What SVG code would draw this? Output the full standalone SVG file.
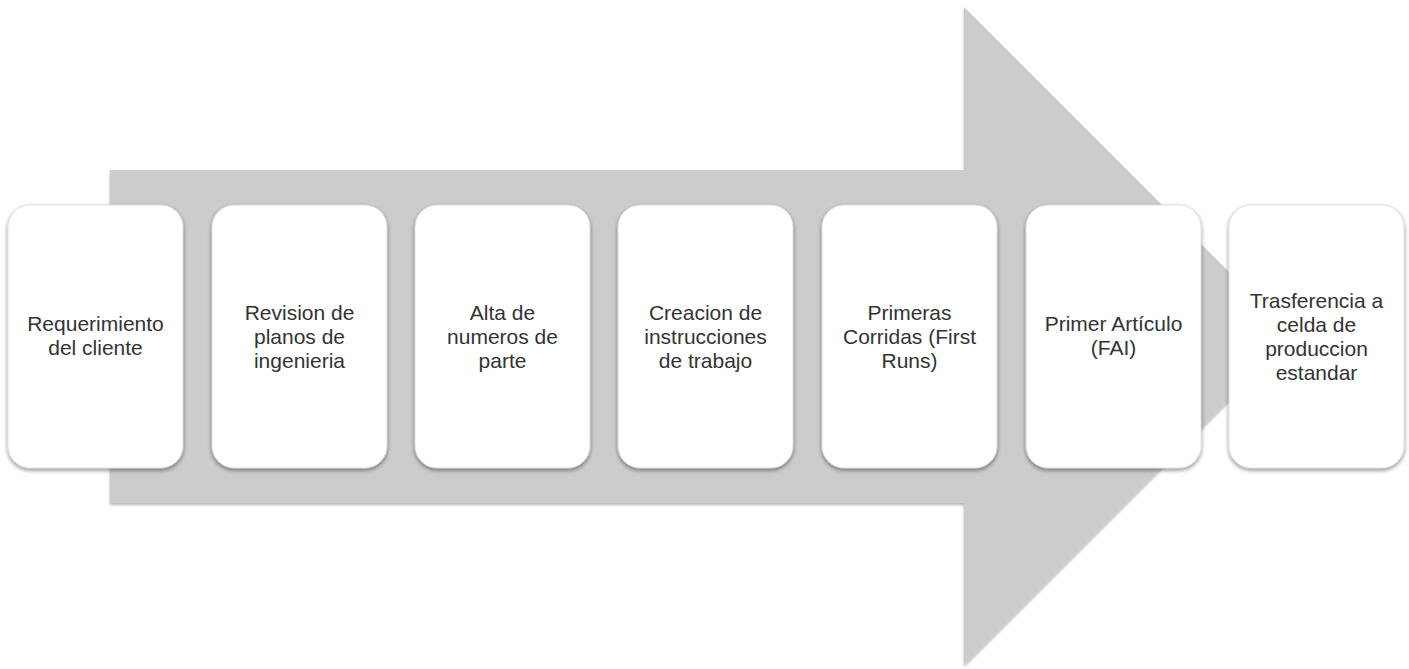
<svg xmlns="http://www.w3.org/2000/svg" width="1409" height="669" viewBox="0 0 1409 669">
<style>
.box{fill:#ffffff;stroke:#d8d8d8;stroke-width:0.8;filter:url(#sh);}
.lbl{font-family:"Liberation Sans",Arial,sans-serif;font-size:21px;fill:#333333;text-anchor:middle;}
</style>
<defs>
<filter id="sh" x="-10%" y="-10%" width="120%" height="120%">
<feGaussianBlur in="SourceAlpha" stdDeviation="2"/>
<feOffset dx="0" dy="2" result="b"/>
<feComponentTransfer><feFuncA type="linear" slope="0.45"/></feComponentTransfer>
<feMerge><feMergeNode/><feMergeNode in="SourceGraphic"/></feMerge>
</filter>
<filter id="ash" x="-5%" y="-5%" width="110%" height="110%">
<feGaussianBlur in="SourceAlpha" stdDeviation="1.5"/>
<feOffset dx="0" dy="1.5"/>
<feComponentTransfer><feFuncA type="linear" slope="0.3"/></feComponentTransfer>
<feMerge><feMergeNode/><feMergeNode in="SourceGraphic"/></feMerge>
</filter>
</defs>
<g id="connectors">
<path d="M110,170 L964,170 L964,7 L1293,336 L964,665 L964,503 L110,503 Z" fill="#cccccc" filter="url(#ash)"/>
</g>
<g id="n1"><rect class="box" x="8" y="205" width="175" height="263" rx="22"/>
<text class="lbl" x="95.5" y="331">Requerimiento</text><text class="lbl" x="95.5" y="355">del cliente</text></g>
<g id="n2"><rect class="box" x="212" y="205" width="175" height="263" rx="22"/>
<text class="lbl" x="299.5" y="320">Revision de</text><text class="lbl" x="299.5" y="344">planos de</text><text class="lbl" x="299.5" y="368">ingenieria</text></g>
<g id="n3"><rect class="box" x="415" y="205" width="175" height="263" rx="22"/>
<text class="lbl" x="502.5" y="320">Alta de</text><text class="lbl" x="502.5" y="344">numeros de</text><text class="lbl" x="502.5" y="368">parte</text></g>
<g id="n4"><rect class="box" x="618" y="205" width="175" height="263" rx="22"/>
<text class="lbl" x="705.5" y="320">Creacion de</text><text class="lbl" x="705.5" y="344">instrucciones</text><text class="lbl" x="705.5" y="368">de trabajo</text></g>
<g id="n5"><rect class="box" x="822" y="205" width="175" height="263" rx="22"/>
<text class="lbl" x="909.5" y="320">Primeras</text><text class="lbl" x="909.5" y="344">Corridas (First</text><text class="lbl" x="909.5" y="368">Runs)</text></g>
<g id="n6"><rect class="box" x="1026" y="205" width="175" height="263" rx="22"/>
<text class="lbl" x="1113.5" y="331">Primer Artículo</text><text class="lbl" x="1113.5" y="355">(FAI)</text></g>
<g id="n7"><rect class="box" x="1229" y="205" width="175" height="263" rx="22"/>
<text class="lbl" x="1316.5" y="308">Trasferencia a</text><text class="lbl" x="1316.5" y="332">celda de</text><text class="lbl" x="1316.5" y="356">produccion</text><text class="lbl" x="1316.5" y="380">estandar</text></g>
</svg>
